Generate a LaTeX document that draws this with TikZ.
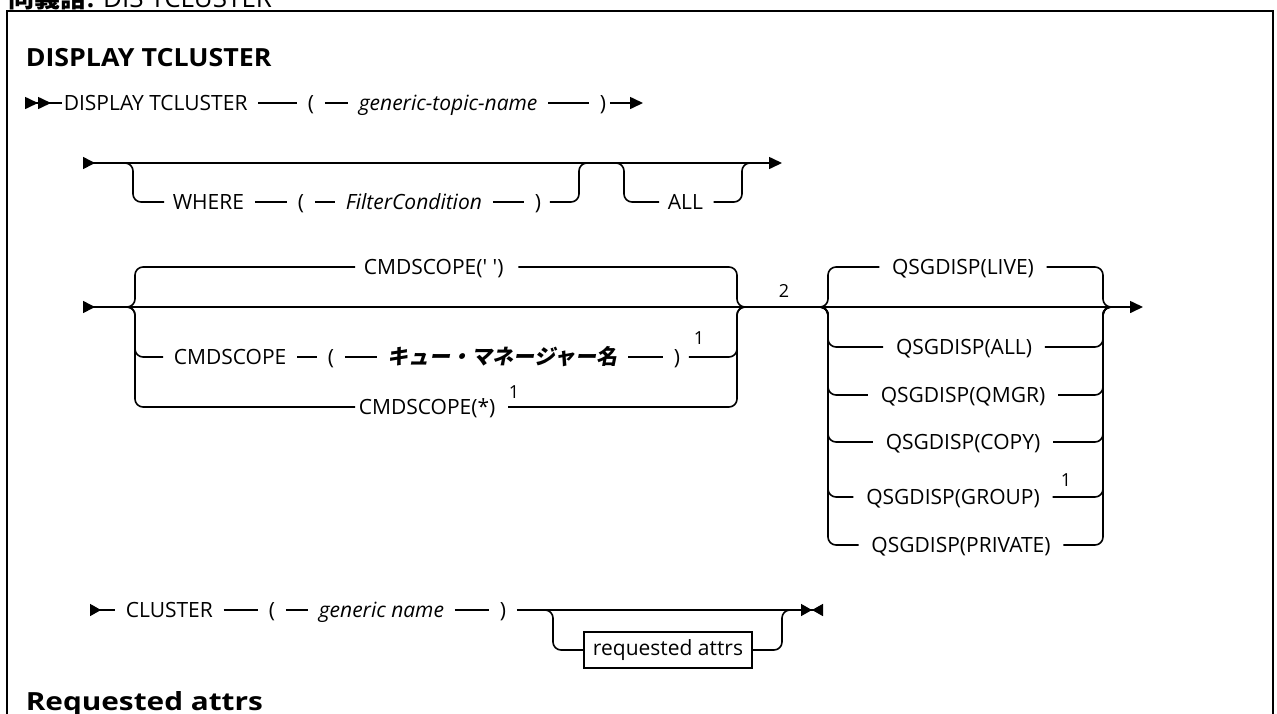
\documentclass[tikz,border=0pt]{standalone}
\usepackage{fontspec}
\setmainfont{Open Sans}
\newfontfamily\jpfont{Noto Sans CJK JP}
\newfontfamily\jpslant{Noto Sans CJK JP}[FakeSlant=0.2]
\newfontfamily\titlefont{Open Sans}[FakeStretch=1.07]
\newfontfamily\headfont{Open Sans}[FakeStretch=1.19]
\usetikzlibrary{arrows.meta,positioning}

\begin{document}
\begin{tikzpicture}[x=1pt,y=-1pt,line width=1.6pt,
  tok/.style={inner sep=0pt,text height=16pt,text depth=2pt,anchor=west,font=\fontsize{21}{24}\selectfont},
  var/.style={tok,font=\fontsize{21}{24}\selectfont\itshape},
  note/.style={inner sep=0pt,font=\fontsize{18}{20}\selectfont},
  brk/.style={shorten <=10pt,shorten >=10pt},
  rail/.style={rounded corners=8pt},
  attrbox/.style={draw,line width=1.3pt,inner xsep=9pt,inner ysep=0pt,minimum height=36pt,font=\fontsize{21}{24}\selectfont}]
\useasboundingbox (0,0) rectangle (1277,713);

% frame and headings
\draw[line width=2.5pt] (7,740) -- (7,11) -- (1273,11) -- (1273,740);
\node[anchor=base west,inner sep=0pt,font=\fontsize{26}{30}\selectfont] (syn) at (8,7.5) {{\jpfont\bfseries 同義語}\textbf{:} DIS TCLUSTER};
\node[anchor=base west,inner sep=0pt,font=\fontsize{25}{28}\selectfont\titlefont\bfseries] (ttl) at (25,66) {DISPLAY TCLUSTER};
\node[anchor=base west,inner sep=0pt,font=\fontsize{25}{28}\selectfont\headfont\bfseries] (rqh) at (25,710) {Requested attrs};

% row 1
\coordinate (s1) at (25,103);
\coordinate (e1) at (643,103);
\node[tok] (dt) at (63,103) {DISPLAY TCLUSTER};
\node[tok] (lp1) at (307,103) {(};
\node[var] (gtn) at (358,103) {generic-topic-name};
\node[tok] (rp1) at (599,103) {)};
\draw[arrows={Triangle[reversed,length=13pt,width=12pt]Triangle[reversed,length=13pt,width=12pt]-},shorten >=1pt] (s1) -- (dt);
\draw[brk] (dt) -- (lp1);
\draw[brk] (lp1) -- (gtn);
\draw[brk] (gtn) -- (rp1);
\draw[arrows={-Triangle[length=13pt,width=12pt]},shorten <=3pt] (rp1) -- (e1);

% row 2: WHERE / ALL
\coordinate (s2) at (83,163);
\coordinate (e2) at (782,163);
\coordinate (w0) at (133,163);
\coordinate (w1) at (579,163);
\coordinate (a0) at (624,163);
\coordinate (a1) at (742,163);
\draw[arrows={Triangle[reversed,length=12pt,width=12pt]-Triangle[length=13pt,width=12pt]}] (s2) -- (e2);
\node[tok] (wh) at (172,202) {WHERE};
\node[tok] (lp2) at (297,202) {(};
\node[var] (fc) at (345,202) {FilterCondition};
\node[tok] (rp2) at (534,202) {)};
\node[tok] (all) at (667,202) {ALL};
\draw[rail,shorten >=8pt] ([xshift=-8pt]w0) -- (w0) |- (wh);
\draw[brk] (wh) -- (lp2);
\draw[brk] (lp2) -- (fc);
\draw[brk] (fc) -- (rp2);
\draw[rail,shorten <=8pt] (rp2) -| (w1) -- ([xshift=8pt]w1);
\draw[rail,shorten >=8pt] ([xshift=-8pt]a0) -- (a0) |- (all);
\draw[rail,shorten <=10pt] (all) -| (a1) -- ([xshift=8pt]a1);

% row 3: CMDSCOPE / QSGDISP
\coordinate (s3) at (83,307);
\coordinate (e3) at (1143,307);
\coordinate (c0) at (135,307);
\coordinate (c1) at (737,307);
\coordinate (q0) at (828,307);
\coordinate (q1) at (1103,307);
\draw[arrows={Triangle[reversed,length=12pt,width=12pt]-Triangle[length=13pt,width=12pt]}] (s3) -- (e3);
\node[tok] (cs0) at (363,267) {CMDSCOPE(\textquotesingle\ \textquotesingle)};
\node[tok] (cs1) at (173,357) {CMDSCOPE};
\node[tok] (lp3) at (327,357) {(};
\node[tok,font=\fontsize{21}{24}\selectfont\jpslant\bfseries] (qm) at (387,357) {キュー・マネージャー名};
\node[tok] (rp3) at (673,357) {)};
\node[note] (n1a) at (699,338) {1};
\node[tok] (cs2) at (358,407) {CMDSCOPE(*)};
\node[note] (n1b) at (514,392) {1};
\node[note] (n2) at (784,291) {2};
\draw[rail,shorten >=8pt] ([xshift=-8pt]c0) -- (c0) |- (cs0);
\draw[rail,shorten <=14pt] (cs0) -| (c1) -- ([xshift=8pt]c1);
\draw[rail,shorten >=10pt] ([xshift=-8pt]c0) -- (c0) |- (cs1);
\draw[brk] (cs1) -- (lp3);
\draw[brk] (lp3) -- (qm);
\draw[brk] (qm) -- (rp3);
\draw[rail,shorten <=8pt] (rp3) -| (c1) -- ([xshift=8pt]c1);
\draw[rail,shorten >=3pt] ([xshift=-8pt]c0) -- (c0) |- (cs2);
\draw[rail,shorten <=12pt] (cs2) -| (c1) -- ([xshift=8pt]c1);

\node[tok,anchor=center] (qlive) at (963,267) {QSGDISP(LIVE)};
\node[tok,anchor=center] (qall) at (964,347) {QSGDISP(ALL)};
\node[tok,anchor=center] (qqmgr) at (963,395) {QSGDISP(QMGR)};
\node[tok,anchor=center] (qcopy) at (963,442) {QSGDISP(COPY)};
\node[tok,anchor=center] (qgroup) at (953,497) {QSGDISP(GROUP)};
\node[tok,anchor=center] (qpriv) at (961,545) {QSGDISP(PRIVATE)};
\node[note] (n1c) at (1066,480) {1};
\foreach \q in {qlive,qall,qqmgr,qcopy,qgroup,qpriv}{
  \draw[rail,shorten >=12pt] ([xshift=-8pt]q0) -- (q0) |- (\q);
  \draw[rail,shorten <=12pt] (\q) -| (q1) -- ([xshift=8pt]q1);
}

% row 4: CLUSTER
\coordinate (s4) at (90,610);
\coordinate (e4) at (823,610);
\coordinate (b0) at (553,610);
\coordinate (b1) at (782,610);
\node[tok] (cl) at (125,610) {CLUSTER};
\node[tok] (lp4) at (268,610) {(};
\node[var] (gn) at (318,610) {generic name};
\node[tok] (rp4) at (499,610) {)};
\node[attrbox] (ra) at (668,650) {requested attrs};
\draw[arrows={Triangle[reversed,length=11pt,width=12pt]-},shorten >=10pt] (s4) -- (cl);
\draw[brk] (cl) -- (lp4);
\draw[brk] (lp4) -- (gn);
\draw[brk] (gn) -- (rp4);
\draw[arrows={-Triangle[length=11pt,width=12pt]Triangle[reversed,length=11pt,width=12pt]},shorten <=10pt] (rp4) -- (e4);
\draw[rail] ([xshift=-8pt]b0) -- (b0) |- (ra);
\draw[rail] (ra) -| (b1) -- ([xshift=8pt]b1);
\end{tikzpicture}
\end{document}
